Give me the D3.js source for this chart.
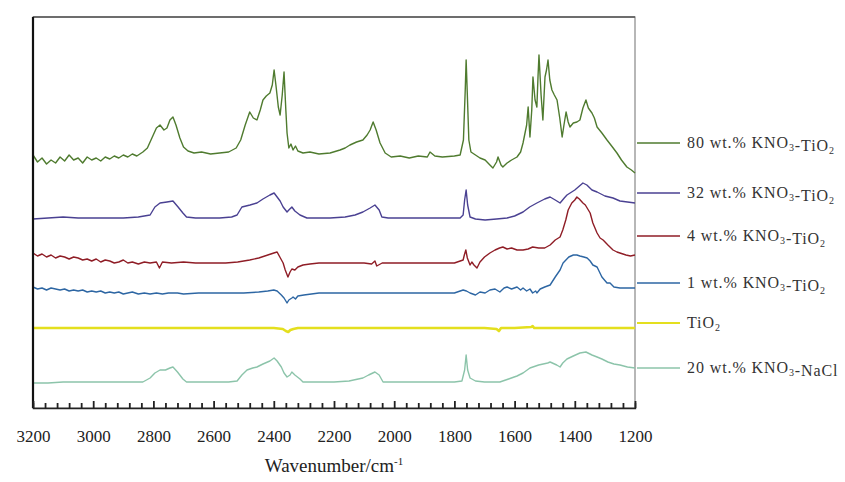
<!DOCTYPE html>
<html><head><meta charset="utf-8">
<script src="https://cdn.jsdelivr.net/npm/d3@7"></script>
<style>html,body{margin:0;padding:0;background:#fff;}svg{display:block;}</style>
</head><body>
<svg id="chart" width="845" height="482"></svg>
<script>
// ---- DATA (wavenumber / cm-1, offset absorbance a.u.) ----
const xTicks = [3200,3000,2800,2600,2400,2200,2000,1800,1600,1400,1200];

const wn80 = [3200,3185,3170,3155,3140,3125,3110,3095,3080,3065,3050,3035,3020,3005,2990,2975,2960,2945,2930,2915,2900,2885,2870,2855,2835,2820,2805,2790,2778,2765,2755,2745,2735,2725,2712,2700,2685,2665,2640,2610,2580,2550,2525,2510,2495,2480,2468,2456,2445,2436,2425,2413,2405,2399,2393,2385,2379,2372,2366,2360,2356,2350,2343,2336,2328,2320,2303,2280,2250,2213,2180,2163,2147,2125,2104,2090,2080,2070,2060,2047,2030,2010,1980,1950,1920,1890,1881,1865,1840,1800,1781,1770,1764,1761,1757,1752,1745,1730,1715,1698,1682,1672,1660,1655,1645,1639,1625,1610,1592,1580,1572,1560,1555,1549,1543,1539,1532,1526,1522,1519,1512,1506,1502,1499,1494,1489,1483,1476,1468,1459,1450,1442,1436,1429,1422,1416,1405,1393,1383,1373,1363,1355,1343,1335,1326,1310,1293,1275,1260,1245,1227,1212,1200];
const ab80 = [250,243,247,241,245,242,248,244,250,245,247,242,248,245,247,244,248,246,249,247,250,248,251,249,253,257,267,277,280,275,277,285,288,280,267,258,254,252,253,251,252,253,257,265,280,293,287,285,295,305,309,312,320,335,320,298,290,310,333,295,272,257,261,255,259,254,252,253,251,252,255,257,260,263,265,270,275,283,275,262,252,248,249,247,249,248,253,249,248,249,250,265,315,345,310,265,253,250,247,245,240,237,243,248,240,238,242,245,248,253,262,280,298,268,295,328,305,298,330,350,310,285,310,328,335,345,325,315,310,305,287,268,280,293,283,278,282,283,285,297,305,297,292,287,278,272,265,258,252,245,238,235,232];

const wn32 = [3200,3150,3100,3050,3000,2950,2900,2850,2811,2795,2778,2755,2735,2718,2702,2690,2660,2620,2580,2540,2522,2506,2479,2456,2436,2413,2399,2389,2379,2369,2356,2350,2340,2330,2313,2290,2250,2213,2163,2130,2104,2080,2064,2050,2041,2020,1980,1930,1881,1831,1781,1771,1766,1761,1756,1748,1730,1698,1660,1625,1600,1572,1550,1526,1500,1482,1465,1449,1435,1426,1400,1373,1360,1343,1326,1300,1273,1250,1225,1200];
const ab32 = [186,187,188,187,187,187,187,188,190,198,202,203,204,198,192,188,187,187,187,188,190,198,200,202,206,210,212,208,204,198,193,195,198,194,190,187,187,187,188,190,193,197,200,195,188,187,187,187,187,187,187,190,205,215,200,188,186,185,186,187,189,193,198,202,206,208,205,202,207,210,215,222,220,215,213,209,207,204,203,202];

const wn4 = [3200,3185,3170,3155,3140,3125,3110,3095,3080,3065,3050,3035,3020,3005,2990,2975,2960,2945,2930,2915,2900,2885,2870,2850,2830,2811,2790,2780,2770,2740,2700,2660,2600,2560,2520,2480,2450,2420,2400,2389,2380,2369,2362,2353,2346,2340,2330,2320,2303,2280,2250,2200,2150,2100,2075,2064,2058,2040,2000,1950,1900,1850,1800,1771,1767,1762,1757,1748,1742,1735,1725,1715,1700,1682,1665,1650,1639,1625,1610,1592,1572,1555,1540,1520,1500,1482,1465,1449,1440,1430,1422,1410,1400,1393,1385,1373,1365,1355,1349,1340,1326,1316,1306,1290,1273,1260,1250,1230,1215,1200];
const ab4 = [152,149,151,148,150,147,149,148,146,148,147,145,146,144,146,143,145,144,142,143,145,142,143,141,143,142,143,137,143,142,143,142,142,142,143,145,147,150,152,153,148,142,135,128,133,136,135,138,140,141,142,142,142,142,141,144,139,142,142,142,142,142,142,145,150,155,147,140,143,140,137,143,148,152,155,157,158,156,157,155,155,156,158,157,157,160,165,168,175,185,195,202,205,208,206,202,200,195,192,182,172,167,165,160,155,153,152,150,149,150];

const wn1 = [3200,3185,3170,3155,3140,3125,3110,3095,3080,3065,3050,3035,3020,3005,2990,2975,2960,2945,2930,2915,2900,2885,2870,2850,2830,2811,2790,2770,2750,2720,2700,2650,2600,2550,2500,2450,2420,2400,2389,2375,2366,2356,2350,2340,2336,2328,2320,2300,2250,2200,2150,2100,2050,2000,1950,1900,1850,1800,1771,1760,1748,1730,1715,1698,1682,1665,1649,1635,1625,1610,1592,1580,1572,1560,1549,1540,1530,1526,1515,1500,1482,1465,1449,1439,1420,1405,1393,1383,1370,1359,1349,1340,1326,1310,1293,1283,1270,1250,1230,1200];
const ab1 = [118,116,117,115,117,116,115,116,114,115,114,115,113,114,113,114,112,113,112,113,111,112,113,111,112,111,112,111,112,112,111,112,112,112,112,113,114,115,114,110,107,102,105,107,108,106,109,110,112,112,112,112,112,112,112,112,112,112,115,114,112,110,113,112,115,116,113,117,118,116,118,115,117,114,116,112,114,112,116,118,120,128,135,142,148,150,150,149,148,147,144,140,138,128,122,122,118,117,117,117];

const wnTi = [3200,3100,3000,2900,2800,2700,2600,2500,2400,2370,2360,2352,2345,2335,2320,2200,2000,1800,1700,1660,1652,1645,1600,1545,1540,1535,1400,1300,1200];
const abTi = [77,77,77,77,77,77,77,77,77,76,74,73,75,76,77,77,77,77,77,76,74,77,77,78,79,77,77,77,77];

const wnNa = [3200,3150,3100,3050,3000,2950,2900,2850,2835,2811,2795,2778,2760,2745,2735,2720,2702,2690,2660,2600,2550,2522,2506,2489,2470,2456,2436,2413,2399,2389,2375,2366,2356,2346,2340,2330,2313,2303,2250,2200,2150,2104,2085,2064,2050,2037,2000,1950,1900,1850,1800,1775,1766,1761,1756,1748,1730,1700,1670,1649,1620,1592,1572,1549,1520,1490,1482,1460,1449,1440,1426,1405,1383,1363,1343,1326,1310,1290,1270,1250,1225,1200];
const abNa = [22,22,23,23,23,23,23,23,23,27,32,35,35,37,38,33,26,23,23,23,23,24,30,35,37,38,41,44,47,44,38,32,28,30,33,30,26,23,23,23,24,27,30,33,30,23,23,23,23,23,23,24,35,50,35,27,24,23,23,23,26,29,32,37,40,42,43,40,38,42,46,49,52,53,50,48,46,43,41,40,38,37];

const seriesNames = ["80 wt.% KNO3-TiO2","32 wt.% KNO3-TiO2","4 wt.% KNO3-TiO2","1 wt.% KNO3-TiO2","TiO2","20 wt.% KNO3-NaCl"];
const seriesColors = ["#4f7b2f","#4a4192","#8f1d26","#2d66a3","#e4df1e","#8cc4aa"];

// ---- LAYOUT ----
const svg = d3.select("#chart");
const L = 33, R = 635, T = 17, B = 408;
const x = d3.scaleLinear().domain([3200,1200]).range([L,R]);
const y = d3.scaleLinear().domain([-3,388]).range([B,T]);

const series = [
  {w:wn80,a:ab80},{w:wn32,a:ab32},{w:wn4,a:ab4},{w:wn1,a:ab1},{w:wnTi,a:abTi},{w:wnNa,a:abNa}
].map((s,i)=>({name:seriesNames[i],color:seriesColors[i],pts:s.w.map((w,j)=>[w,s.a[j]])}));

// frame
svg.append("rect").attr("x",L).attr("y",T).attr("width",R-L).attr("height",B-T)
  .attr("fill","none").attr("stroke","#888").attr("stroke-width",1.2);
svg.append("line").attr("x1",L).attr("x2",R).attr("y1",T).attr("y2",T).attr("stroke","#555").attr("stroke-width",1.6);

const line = d3.line().x(d=>x(d[0])).y(d=>y(d[1]));
series.forEach((s,i)=>{
  svg.append("path").datum(s.pts).attr("d",line).attr("fill","none")
    .attr("stroke",s.color).attr("stroke-width", i===4?2.6:1.4).attr("stroke-linejoin","round");
});

// left axis line (thick)
svg.append("line").attr("x1",L).attr("x2",L).attr("y1",T).attr("y2",B).attr("stroke","#111").attr("stroke-width",2.2);

// bottom axis with inward ticks (minor every 40, major every 200)
const minor = d3.range(3200,1199,-40);
const ax = d3.axisBottom(x).tickValues(minor).tickSize(-5).tickFormat("");
const gx = svg.append("g").attr("transform",`translate(0,${B})`).call(ax);
gx.select(".domain").attr("stroke","#222").attr("stroke-width",1.4);
gx.selectAll(".tick line").attr("stroke","#222").attr("stroke-width",1.8).attr("y2",d=>d%200===0?-7:-5);
const labs = d3.axisBottom(x).tickValues(xTicks).tickSize(0).tickPadding(22).tickFormat(d3.format("d"));
const gl = svg.append("g").attr("transform",`translate(0,${B})`).call(labs);
gl.select(".domain").remove();
gl.selectAll("text").attr("font-family","Liberation Serif, serif").attr("font-size",17).attr("fill","#222");

// axis title
const tt = svg.append("text").attr("x",334).attr("y",472).attr("text-anchor","middle")
  .attr("font-family","Liberation Serif, serif").attr("font-size",19).attr("fill","#222");
tt.append("tspan").text("Wavenumber/cm");
tt.append("tspan").attr("dy",-7).attr("font-size",11).text("-1");

// legend
const legY = [143,193,236,283,323,368];
function addLabel(g, name){
  const tokens = name.split(/(KNO3|TiO2)/).filter(t=>t.length);
  tokens.forEach(t=>{
    if(t==="KNO3"){ g.append("tspan").text("KNO"); g.append("tspan").attr("dy",3).attr("font-size",10).text("3"); g.append("tspan").attr("dy",-3).text(""); }
    else if(t==="TiO2"){ g.append("tspan").text("TiO"); g.append("tspan").attr("dy",3).attr("font-size",10).text("2"); g.append("tspan").attr("dy",-3).text(""); }
    else g.append("tspan").text(t);
  });
}
series.forEach((s,i)=>{
  svg.append("line").attr("x1",637).attr("x2",680).attr("y1",legY[i]).attr("y2",legY[i])
    .attr("stroke",s.color).attr("stroke-width",i===4?2.2:1.4);
  const t = svg.append("text").attr("x",687).attr("y",legY[i]+5)
    .attr("font-family","Liberation Serif, serif").attr("font-size",16).attr("letter-spacing",0.9).attr("fill","#333");
  addLabel(t, s.name);
});
</script>
</body></html>
